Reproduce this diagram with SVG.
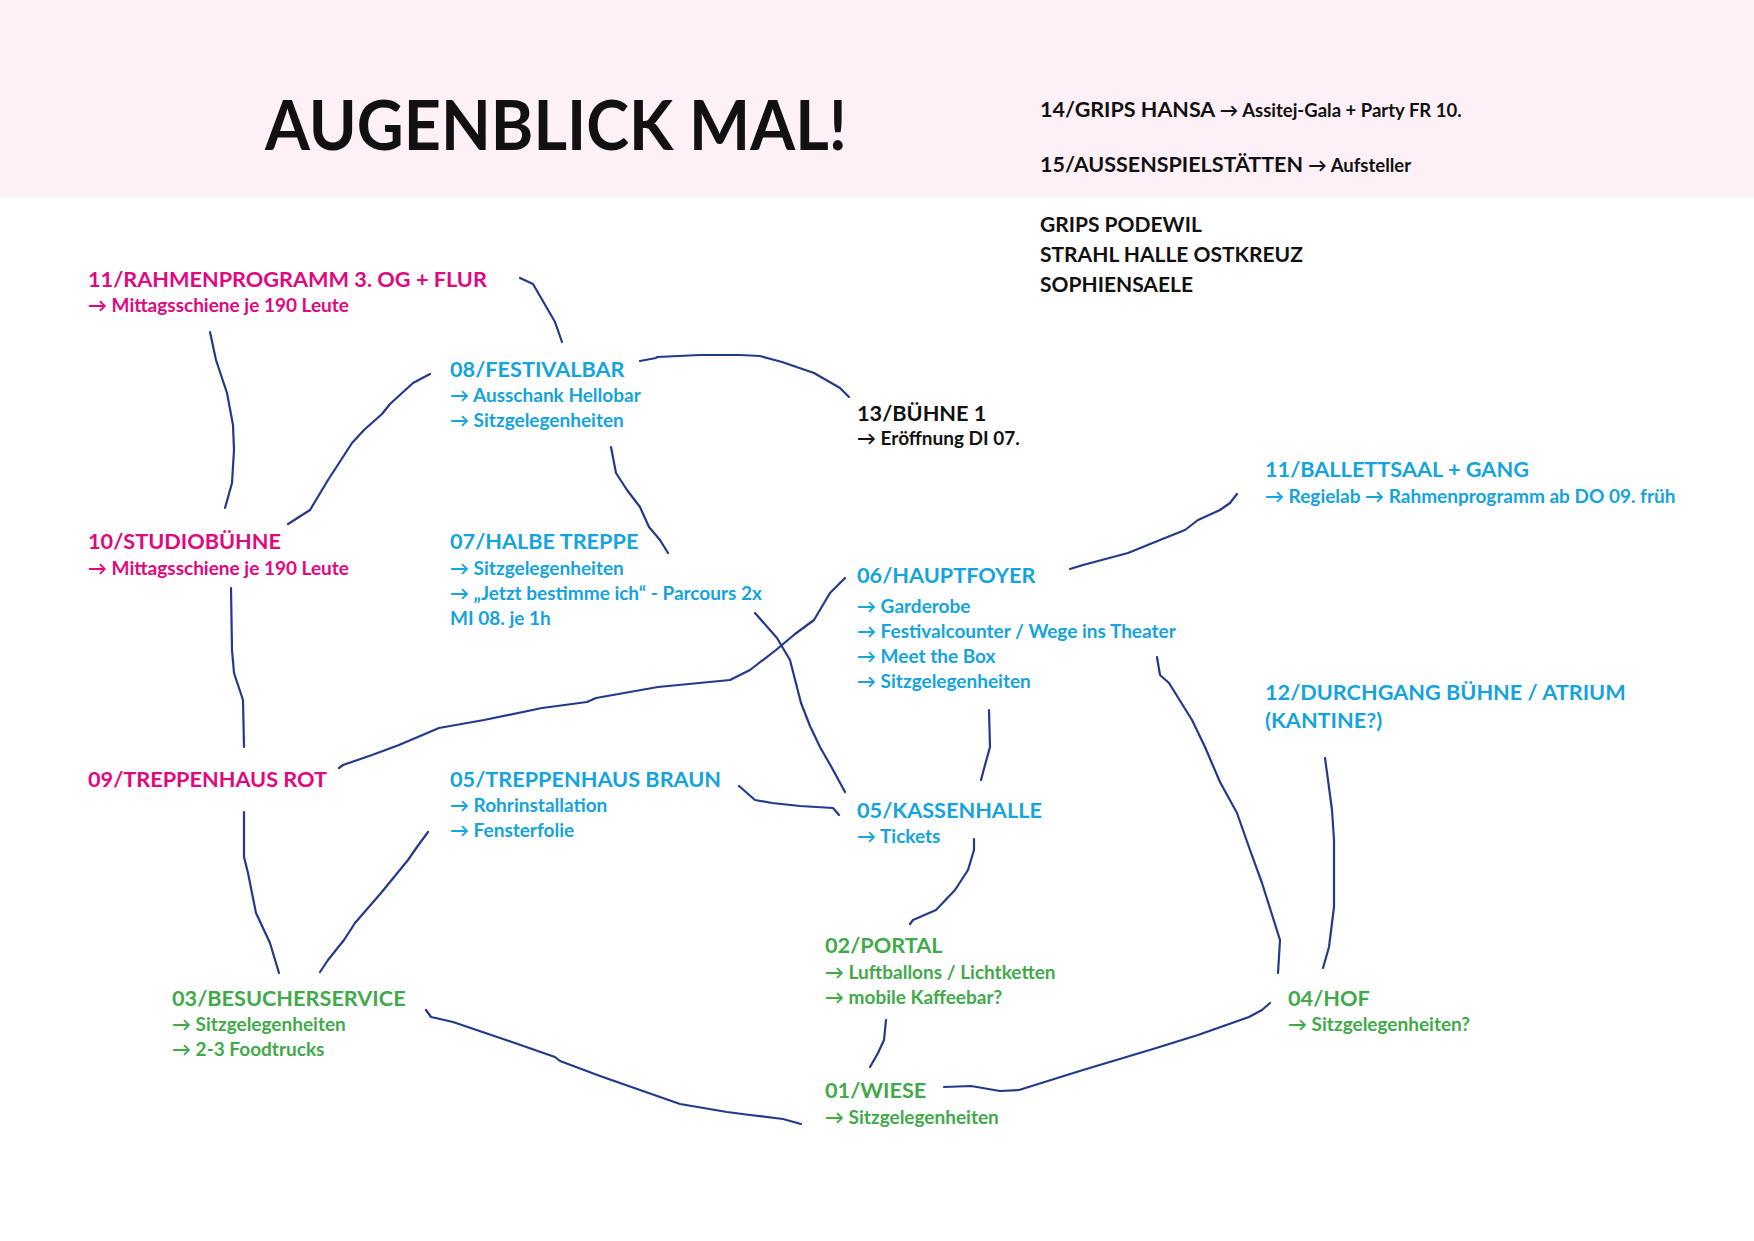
<svg xmlns="http://www.w3.org/2000/svg" width="1754" height="1241" viewBox="0 0 1754 1241">
<style>
text{font-family:Lato,"Liberation Sans","DejaVu Sans",sans-serif;font-weight:700}
.t{font-size:21.7px}
.s{font-size:19px}
.m{fill:#e2067f}
.c{fill:#15a3dd}
.g{fill:#42a94b}
.k{fill:#111111}
.ln path{fill:none;stroke:#233a8a;stroke-width:2.2;stroke-linecap:round;stroke-linejoin:round}
</style>
<rect x="0" y="0" width="1754" height="1241" fill="#ffffff"/>
<rect x="0" y="0" width="1754" height="197" fill="#fdf0f6"/>
<g id="header">
<text x="265" y="150" class="k" style="font-size:68px" textLength="582" lengthAdjust="spacingAndGlyphs">AUGENBLICK MAL!</text>
<text x="1040" y="117" class="k" style="font-size:21.5px">14/GRIPS HANSA <tspan style="font-size:18.5px">→ Assitej-Gala + Party FR 10.</tspan></text>
<text x="1040" y="172" class="k" style="font-size:21.5px">15/AUSSENSPIELSTÄTTEN <tspan style="font-size:18.5px">→ Aufsteller</tspan></text>
<text x="1040" y="232" class="k" style="font-size:21px">GRIPS PODEWIL</text>
<text x="1040" y="262" class="k" style="font-size:21px">STRAHL HALLE OSTKREUZ</text>
<text x="1040" y="292" class="k" style="font-size:21px">SOPHIENSAELE</text>
</g>
<g class="ln" id="connectors">
<path d="M520,278 L533,284 L544,303 L555,322 L562,342"/>
<path d="M210,332 L216,360 L227,393 L233,425 L234,450 L232,483 L225,508"/>
<path d="M288,524 L310,510 L328,480 L341,460 L352,443 L364,430 L382,414 L390,404 L413,383 L430,374"/>
<path d="M640,361 L656,358 L657,357 L700,355 L740,355 L760,356 L782,362 L814,373 L840,388 L849,397"/>
<path d="M611,447 L616,473 L627,490 L640,507 L649,527 L660,540 L668,553"/>
<path d="M755,613 L777,638 L790,660 L801,703 L810,726 L820,747 L832,768 L845,792"/>
<path d="M339,768 L343,765 L372,755 L399,745 L439,728 L484,720 L542,708 L587,702 L596,698 L658,687 L730,680 L750,670 L776,650 L795,634 L814,620 L830,593 L840,583 L845,578"/>
<path d="M1070,569 L1083,565 L1128,553 L1160,540 L1185,530 L1198,520 L1220,510 L1230,503 L1237,494"/>
<path d="M1157,657 L1160,675 L1169,683 L1192,720 L1205,747 L1220,782 L1237,813 L1250,850 L1262,883 L1280,940 L1278,973"/>
<path d="M1325,758 L1328,780 L1332,810 L1334,840 L1334,907 L1329,947 L1323,968"/>
<path d="M989,710 L990,747 L985,765 L981,780"/>
<path d="M739,786 L755,800 L772,803 L800,806 L833,808 L839,815"/>
<path d="M974,839 L974,850 L968,870 L955,890 L936,910 L913,920 L910,924"/>
<path d="M886,1020 L884,1040 L878,1053 L870,1067"/>
<path d="M944,1087 L971,1086 L1000,1091 L1019,1090 L1083,1070 L1153,1049 L1198,1035 L1249,1017 L1262,1010 L1270,1003"/>
<path d="M426,1010 L431,1017 L453,1022 L506,1040 L555,1057 L560,1061 L600,1076 L640,1090 L680,1104 L727,1112 L750,1115 L783,1119 L801,1124"/>
<path d="M244,812 L244,857 L248,873 L256,913 L270,943 L279,973"/>
<path d="M428,832 L417,847 L408,860 L381,893 L355,923 L344,940 L328,960 L320,972"/>
<path d="M231,588 L232,650 L234,673 L243,700 L244,747"/>
</g>
<g id="n11rahmen"><text x="88" y="287" class="t m">11/RAHMENPROGRAMM 3. OG + FLUR</text><text x="88" y="312" class="s m">→ Mittagsschiene je 190 Leute</text></g>
<g id="n08festivalbar"><text x="450" y="377" class="t c">08/FESTIVALBAR</text><text x="450" y="402" class="s c">→ Ausschank Hellobar</text><text x="450" y="427" class="s c">→ Sitzgelegenheiten</text></g>
<g id="n13buehne"><text x="857" y="421" class="t k">13/BÜHNE 1</text><text x="857" y="445" class="s k">→ Eröffnung DI 07.</text></g>
<g id="n11ballett"><text x="1265" y="477" class="t c">11/BALLETTSAAL + GANG</text><text x="1265" y="503" class="s c">→ Regielab → Rahmenprogramm ab DO 09. früh</text></g>
<g id="n10studio"><text x="88" y="549" class="t m">10/STUDIOBÜHNE</text><text x="88" y="575" class="s m">→ Mittagsschiene je 190 Leute</text></g>
<g id="n07halbe"><text x="450" y="549" class="t c">07/HALBE TREPPE</text><text x="450" y="575" class="s c">→ Sitzgelegenheiten</text><text x="450" y="600" class="s c">→ „Jetzt bestimme ich“ - Parcours 2x</text><text x="450" y="625" class="s c">MI 08. je 1h</text></g>
<g id="n06haupt"><text x="857" y="583" class="t c">06/HAUPTFOYER</text><text x="857" y="613" class="s c">→ Garderobe</text><text x="857" y="638" class="s c">→ Festivalcounter / Wege ins Theater</text><text x="857" y="663" class="s c">→ Meet the Box</text><text x="857" y="688" class="s c">→ Sitzgelegenheiten</text></g>
<g id="n12durch"><text x="1265" y="700" class="t c">12/DURCHGANG BÜHNE / ATRIUM</text><text x="1265" y="728" class="t c">(KANTINE?)</text></g>
<g id="n09rot"><text x="88" y="787" class="t m">09/TREPPENHAUS ROT</text></g>
<g id="n05braun"><text x="450" y="787" class="t c">05/TREPPENHAUS BRAUN</text><text x="450" y="812" class="s c">→ Rohrinstallation</text><text x="450" y="837" class="s c">→ Fensterfolie</text></g>
<g id="n05kasse"><text x="857" y="818" class="t c">05/KASSENHALLE</text><text x="857" y="843" class="s c">→ Tickets</text></g>
<g id="n03besucher"><text x="172" y="1006" class="t g">03/BESUCHERSERVICE</text><text x="172" y="1031" class="s g">→ Sitzgelegenheiten</text><text x="172" y="1056" class="s g">→ 2-3 Foodtrucks</text></g>
<g id="n02portal"><text x="825" y="953" class="t g">02/PORTAL</text><text x="825" y="979" class="s g">→ Luftballons / Lichtketten</text><text x="825" y="1004" class="s g">→ mobile Kaffeebar?</text></g>
<g id="n04hof"><text x="1288" y="1006" class="t g">04/HOF</text><text x="1288" y="1031" class="s g">→ Sitzgelegenheiten?</text></g>
<g id="n01wiese"><text x="825" y="1098" class="t g">01/WIESE</text><text x="825" y="1124" class="s g">→ Sitzgelegenheiten</text></g>
</svg>
